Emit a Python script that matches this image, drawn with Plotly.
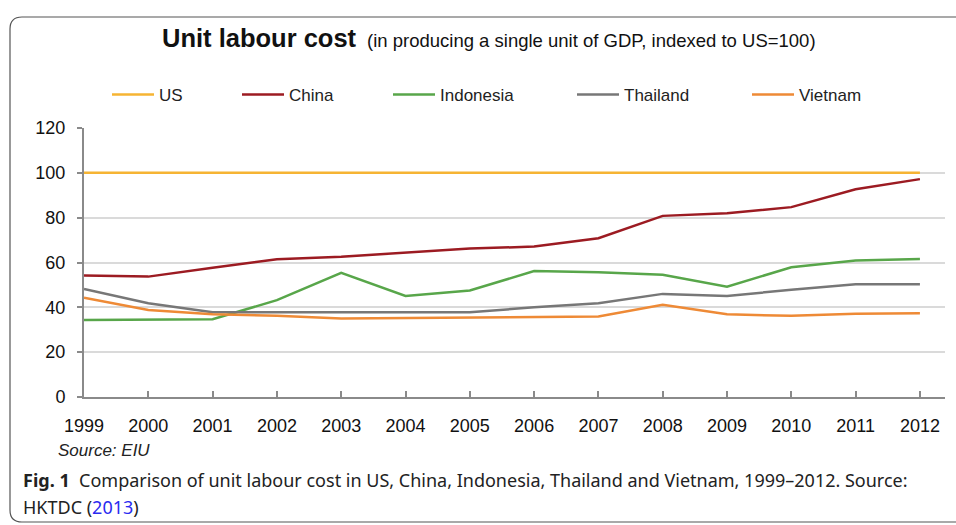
import plotly.graph_objects as go

years = list(range(1999, 2013))
us = [100] * 14
china = [54.2, 53.7, 57.7, 61.5, 62.6, 64.4, 66.2, 67.1, 70.8, 80.8, 82.0, 84.7, 92.7, 97.2]
indonesia = [34.4, 34.4, 34.7, 43.2, 55.4, 45.1, 47.5, 56.2, 55.7, 54.5, 49.2, 57.9, 60.9, 61.6]
thailand = [48.2, 41.8, 37.8, 37.8, 37.8, 37.8, 37.8, 40.0, 41.8, 46.0, 45.1, 47.8, 50.3, 50.3]
vietnam = [44.3, 38.8, 36.9, 36.2, 35.0, 35.2, 35.6, 35.9, 35.9, 41.1, 36.9, 36.2, 37.1, 37.4]

series_names = ["US", "China", "Indonesia", "Thailand", "Vietnam"]
series_values = [us, china, indonesia, thailand, vietnam]
colors = ["#f6b433", "#9c1b22", "#58a64a", "#777777", "#ee8a36"]
y_ticks = [0, 20, 40, 60, 80, 100, 120]

W, H = 956, 525
ML, MR, MT, MB = 84, 11, 128, 128
PW, PH = W - ML - MR, H - MT - MB


def px(x):
    return (x - ML) / PW


def py(y):
    return (H - MB - y) / PH


legend_x = [112, 242, 393, 577, 752]
fig = go.Figure()
for i, (name, vals, col) in enumerate(zip(series_names, series_values, colors)):
    lname = "legend" if i == 0 else f"legend{i+1}"
    fig.add_trace(go.Scatter(x=years, y=vals, name=name, mode="lines",
                             line=dict(color=col, width=2.5), legend=lname))
    fig.update_layout({lname: dict(x=px(legend_x[i] - 5), y=py(95), xanchor="left", yanchor="middle",
                                   orientation="h", bgcolor="rgba(0,0,0,0)", itemwidth=42,
                                   font=dict(family="Liberation Sans, Arial", size=17, color="#222"))})

axis_font = dict(family="Liberation Sans, Arial", size=18, color="#111")
fig.update_xaxes(range=[1999, 2012.39], tickmode="array", tickvals=years, ticktext=[str(y) for y in years],
                 showgrid=False, zeroline=False, showline=True, linecolor="#8a8a8a", linewidth=2,
                 ticks="inside", ticklen=6, tickcolor="#8a8a8a", tickwidth=1.5, tickfont=axis_font,
                 ticklabelstandoff=11)
fig.update_yaxes(range=[0, 120], tickvals=y_ticks, showgrid=True, gridcolor="#dadada", gridwidth=1.5,
                 zeroline=False, showline=True, linecolor="#8a8a8a", linewidth=2,
                 ticks="outside", ticklen=5, tickcolor="#8a8a8a", tickwidth=1.5, tickfont=axis_font,
                 ticklabelstandoff=8)

# rounded frame
x0, x1 = px(10), px(975)
y0, y1 = py(17), py(522)
rx, ry = 12 / PW, 12 / PH
path = (f"M{x1},{y0} L{x0+rx},{y0} Q{x0},{y0} {x0},{y0-ry} L{x0},{y1+ry} "
        f"Q{x0},{y1} {x0+rx},{y1} L{x1},{y1}")
fig.add_shape(type="path", path=path, xref="paper", yref="paper", line=dict(color="#555", width=1.2))

ann = [
    dict(text="<b>Unit labour cost</b>", x=px(160), y=py(38), xanchor="left", yanchor="middle",
         font=dict(family="Liberation Sans, Arial", size=25.5, color="#111")),
    dict(text="(in producing a single unit of GDP, indexed to US=100)", x=px(365), y=py(40),
         xanchor="left", yanchor="middle", font=dict(family="Liberation Sans, Arial", size=18.5, color="#111")),
    dict(text="<i>Source: EIU</i>", x=px(56), y=py(450), xanchor="left", yanchor="middle",
         font=dict(family="Liberation Sans, Arial", size=17, color="#222")),
    dict(text="<b>Fig. 1</b>  Comparison of unit labour cost in US, China, Indonesia, Thailand and Vietnam, 1999–2012. Source:",
         x=px(21), y=py(480), xanchor="left", yanchor="middle",
         font=dict(family="Noto Sans", size=18, color="#222")),
    dict(text="HKTDC (<span style='color:#2a2af0'>2013</span>)", x=px(21), y=py(507), xanchor="left",
         yanchor="middle", font=dict(family="Noto Sans", size=18, color="#222")),
]
for a in ann:
    fig.add_annotation(xref="paper", yref="paper", showarrow=False, **a)

fig.update_layout(width=W, height=H, margin=dict(l=ML, r=MR, t=MT, b=MB),
                  paper_bgcolor="white", plot_bgcolor="white", showlegend=True)
fig.write_html("out.html")
